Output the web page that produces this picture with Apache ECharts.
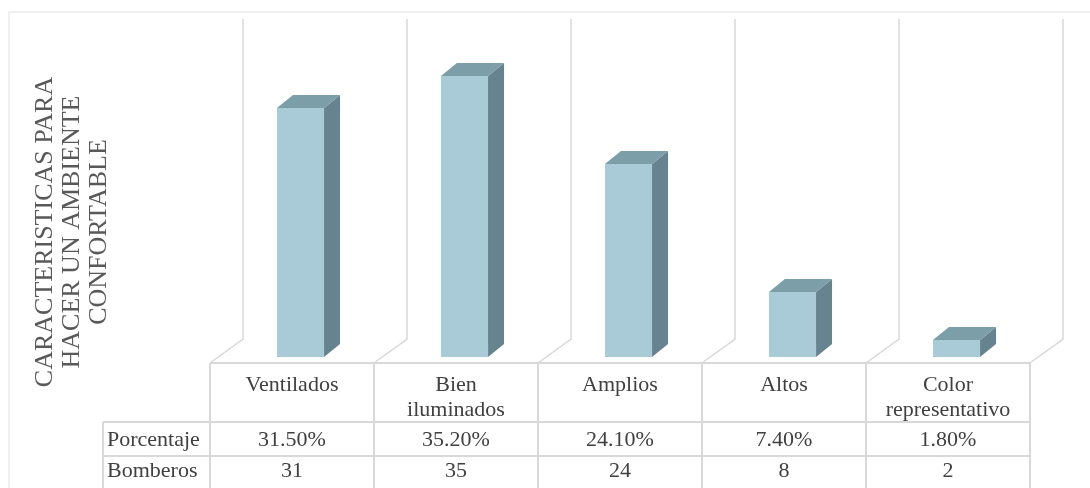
<!DOCTYPE html>
<html>
<head>
<meta charset="utf-8">
<title>Características para hacer un ambiente confortable</title>
<script src="https://cdn.jsdelivr.net/npm/echarts@6/dist/echarts.min.js"></script>
<style>
  html, body { margin: 0; padding: 0; background: #ffffff; }
  #main { width: 1090px; height: 488px; }
</style>
</head>
<body>
<div id="main"></div>
<script>
// ---- data ----
const categories = ['Ventilados', 'Bien\niluminados', 'Amplios', 'Altos', 'Color\nrepresentativo'];
const porcentaje = [31.5, 35.2, 24.1, 7.4, 1.8];
const bomberos = [31, 35, 24, 8, 2];
const rowLabels = ['Porcentaje', 'Bomberos'];
const axisTitle = 'CARACTERISTICAS PARA\nHACER UN AMBIENTE\nCONFORTABLE';
const yMax = 40;

// ---- look ----
const FONT = "'Liberation Serif', 'Times New Roman', serif";
const TEXT = '#404040';
const LINE = '#d9d9d9';
const FRONT = '#a8cbd7';
const TOP = '#7c9ea9';
const SIDE = '#688390';

// oblique projection offsets (pixels)
const WALL_DX = 33, WALL_DY = -17;   // front zero line -> back wall
const BAR_DX = 16, BAR_DY = -13;     // bar depth
const TABLE_ROWS = [7, 66, 100];     // table row tops below the zero line
const TABLE_BOTTOM_PAD = 150;

const chart = echarts.init(document.getElementById('main'));

// back wall verticals, floor diagonals and table rules, one column per category
function renderFrame(params, api) {
  const i = api.value(0);
  const base = api.coord([i, 0]);
  const top = api.coord([i, yMax])[1];
  const bw = api.size([1, 0])[0];
  const L = base[0] - bw / 2, R = base[0] + bw / 2;
  const y0 = base[1];
  const tableTop = y0 + TABLE_ROWS[0];
  const children = [];
  const xs = [L];
  if (i === categories.length - 1) xs.push(R);
  xs.forEach(function (x) {
    children.push({
      type: 'polyline',
      shape: { points: [[x + WALL_DX, top + WALL_DY], [x + WALL_DX, y0 + WALL_DY], [x, tableTop]] },
      style: { stroke: LINE, lineWidth: 1.5, fill: null }
    });
    children.push({
      type: 'line',
      shape: { x1: x, y1: tableTop, x2: x, y2: y0 + TABLE_BOTTOM_PAD },
      style: { stroke: LINE, lineWidth: 2 }
    });
  });
  TABLE_ROWS.forEach(function (dy) {
    children.push({
      type: 'line',
      shape: { x1: L, y1: y0 + dy, x2: R, y2: y0 + dy },
      style: { stroke: LINE, lineWidth: 2 }
    });
  });
  if (i === 0) {
    // row header cells to the left of the table
    const hx = L - 107;
    [TABLE_ROWS[1], TABLE_ROWS[2]].forEach(function (dy) {
      children.push({
        type: 'line',
        shape: { x1: hx, y1: y0 + dy, x2: L, y2: y0 + dy },
        style: { stroke: LINE, lineWidth: 2 }
      });
    });
    children.push({
      type: 'line',
      shape: { x1: hx, y1: y0 + TABLE_ROWS[1], x2: hx, y2: y0 + TABLE_BOTTOM_PAD },
      style: { stroke: LINE, lineWidth: 2 }
    });
  }
  return { type: 'group', children: children, silent: true };
}

// 3D column: front face, top face, right side face
function renderBar(params, api) {
  const i = api.value(0), v = api.value(1);
  const base = api.coord([i, 0]);
  const yTop = api.coord([i, v])[1];
  const bw = api.size([1, 0])[0];
  const w = bw * 0.287;
  const cx = base[0] + 8.5;
  const L = cx - w / 2, R = cx + w / 2;
  const yB = base[1] + 1;
  return {
    type: 'group',
    children: [
      {
        type: 'polygon',
        shape: { points: [[R, yTop], [R + BAR_DX, yTop + BAR_DY], [R + BAR_DX, yB + BAR_DY], [R, yB]] },
        style: { fill: SIDE }
      },
      {
        type: 'polygon',
        shape: { points: [[L, yTop], [L + BAR_DX, yTop + BAR_DY], [R + BAR_DX, yTop + BAR_DY], [R, yTop]] },
        style: { fill: TOP }
      },
      {
        type: 'rect',
        shape: { x: L, y: yTop, width: w, height: yB - yTop },
        style: { fill: FRONT }
      }
    ]
  };
}

const labelStyle = {
  interval: 0,
  hideOverlap: false,
  color: TEXT,
  fontFamily: FONT,
  fontSize: 22,
  lineHeight: 25,
  margin: 17
};

function tableAxis(data, offset) {
  return {
    type: 'category',
    gridIndex: 0,
    position: 'bottom',
    offset: offset,
    data: data,
    axisLine: { show: false },
    axisTick: { show: false },
    splitLine: { show: false },
    axisLabel: labelStyle
  };
}

chart.setOption({
  animation: false,
  backgroundColor: '#ffffff',
  grid: {
    left: 210, right: 60, top: 36, bottom: 132,
    containLabel: false,
    outerBoundsMode: 'none'
  },
  xAxis: [
    tableAxis(categories, 0),
    tableAxis(porcentaje.map(function (p) { return p.toFixed(2) + '%'; }), 55),
    tableAxis(bomberos.map(String), 86)
  ],
  yAxis: {
    type: 'value',
    min: 0,
    max: yMax,
    interval: 10,
    show: false
  },
  graphic: [
    {
      type: 'rect',
      shape: { x: 9, y: 12, width: 1200, height: 600 },
      style: { fill: null, stroke: '#ececec', lineWidth: 1.5 },
      silent: true,
      z: -10
    },
    {
      type: 'text',
      x: 72, y: 232,
      rotation: Math.PI / 2,
      style: {
        text: axisTitle,
        fontFamily: FONT,
        fontSize: 26,
        lineHeight: 27,
        fill: '#595959',
        align: 'center',
        verticalAlign: 'middle'
      }
    },
    {
      type: 'text',
      x: 107, y: 440,
      style: { text: rowLabels[0], fontFamily: FONT, fontSize: 22, fill: TEXT, align: 'left', verticalAlign: 'middle' }
    },
    {
      type: 'text',
      x: 107, y: 471,
      style: { text: rowLabels[1], fontFamily: FONT, fontSize: 22, fill: TEXT, align: 'left', verticalAlign: 'middle' }
    }
  ],
  series: [
    {
      type: 'custom',
      name: 'frame',
      xAxisIndex: 0,
      renderItem: renderFrame,
      data: categories.map(function (c, i) { return [i, 0]; }),
      encode: { x: 0, y: 1 },
      clip: false,
      silent: true,
      z: 1
    },
    {
      type: 'custom',
      name: 'Bomberos',
      xAxisIndex: 0,
      renderItem: renderBar,
      data: bomberos.map(function (v, i) { return [i, v]; }),
      encode: { x: 0, y: 1 },
      clip: false,
      z: 2
    }
  ]
});
</script>
</body>
</html>
